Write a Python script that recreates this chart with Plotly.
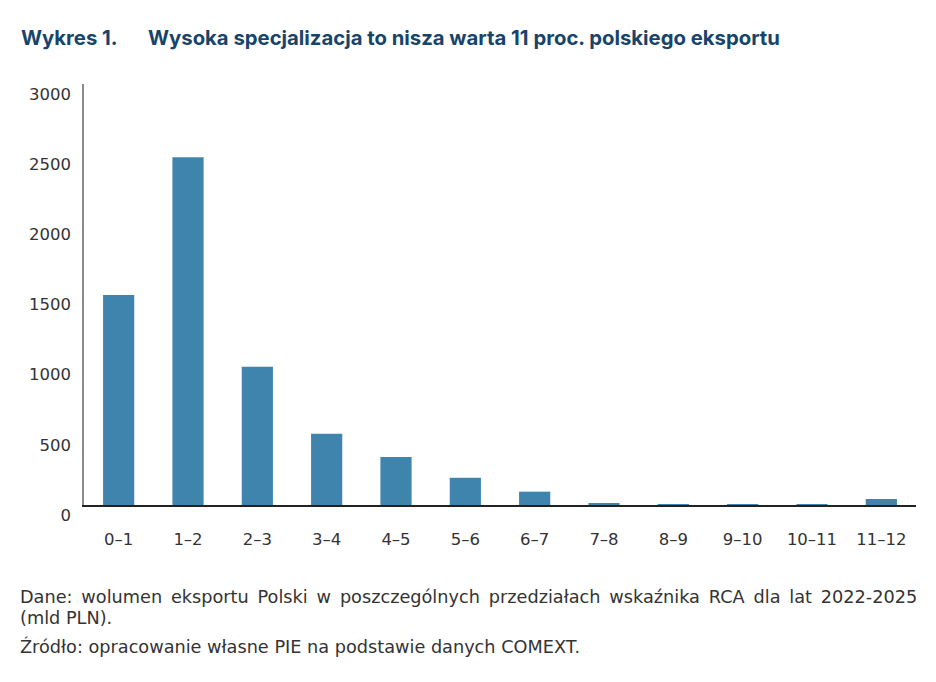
import plotly.graph_objects as go

# RCA index ranges and Polish export volume (bn PLN)
rca_bins = ["0–1", "1–2", "2–3", "3–4", "4–5", "5–6", "6–7",
            "7–8", "8–9", "9–10", "10–11", "11–12"]
export_volume = [1497, 2478, 985, 508, 342, 194, 95, 14, 5, 1, 5, 43]

y_ticks = [0, 500, 1000, 1500, 2000, 2500, 3000]

title_text = "Wykres 1.\u2003\u2002Wysoka specjalizacja to nisza warta 11 proc. polskiego eksportu"
note_lines = [
    "Dane: wolumen eksportu Polski w poszczególnych przedziałach wskaźnika RCA dla lat 2022-2025",
    "(mld PLN).",
    "Źródło: opracowanie własne PIE na podstawie danych COMEXT.",
]
# first note line is justified in the original, widen its spaces a bit
note_lines[0] = note_lines[0].replace(" ", "\u2002")

TITLE_FONT = "Inter"
FONT = "DejaVu Sans"
bar_color = "#3f84ac"
navy = "#17446b"
text_grey = "#333333"

fig = go.Figure(
    go.Bar(
        x=rca_bins,
        y=export_volume,
        marker=dict(color=bar_color, line=dict(width=0)),
        hoverinfo="x+y",
    )
)

fig.update_layout(
    width=936,
    height=682,
    margin=dict(l=84, r=20, t=84, b=177),
    paper_bgcolor="white",
    plot_bgcolor="white",
    showlegend=False,
    bargap=0.55,
    font=dict(family=FONT, size=16, color=text_grey),
    xaxis=dict(
        showline=True, linecolor="#222222", linewidth=1.5,
        showgrid=False, ticks="", ticklabelstandoff=18,
        tickfont=dict(size=16.5, color=text_grey),
        automargin=False,
    ),
    yaxis=dict(
        range=[0, 3000], tickvals=y_ticks,
        showline=True, linecolor="#8a8a8a", linewidth=1.5,
        showgrid=False, zeroline=False, ticks="",
        ticklabelstandoff=8, ticklabelshift=10,
        tickfont=dict(size=16.5, color=text_grey),
        automargin=False,
    ),
)

fig.add_annotation(
    text=f"<b>{title_text}</b>", xref="paper", yref="paper",
    x=-65 / 832, y=1, yshift=47, xanchor="left", yanchor="middle",
    showarrow=False, font=dict(family=TITLE_FONT, size=20.3, color=navy),
)

note_y = [597, 618, 646]
for line, ypx in zip(note_lines, note_y):
    fig.add_annotation(
        text=line, xref="paper", yref="paper",
        x=-66 / 832, y=0, yshift=505 - ypx, xanchor="left", yanchor="middle",
        showarrow=False, font=dict(family=FONT, size=17.7, color=text_grey),
    )

# drop the default 8px body margin so the figure sits at the page origin
fig.write_html(
    "out.html",
    config={"displayModeBar": False},
    post_script="document.body.style.margin='0';",
)
